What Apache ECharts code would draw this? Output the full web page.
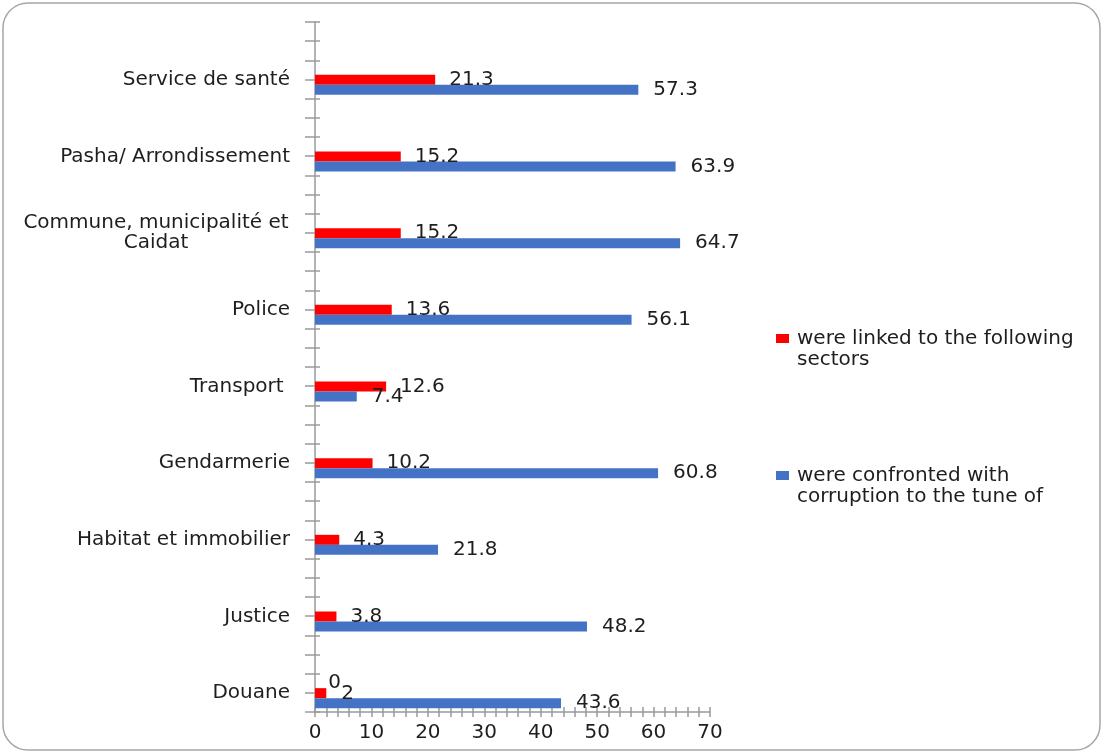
<!DOCTYPE html>
<html>
<head>
<meta charset="utf-8">
<script src="https://cdn.jsdelivr.net/npm/echarts@6/dist/echarts.min.js"></script>
<style>
  html, body { margin: 0; padding: 0; background: #fff; }
  #chart { width: 1104px; height: 753px; }
</style>
</head>
<body>
<div id="chart"></div>
<script>
// sectors, top to bottom
const categories = [
  'Service de santé',
  'Pasha/ Arrondissement',
  'Commune, municipalité et\nCaidat',
  'Police',
  'Transport ',
  'Gendarmerie',
  'Habitat et immobilier',
  'Justice',
  'Douane'
];
const linked = [21.3, 15.2, 15.2, 13.6, 12.6, 10.2, 4.3, 3.8, 2];
const confronted = [57.3, 63.9, 64.7, 56.1, 7.4, 60.8, 21.8, 48.2, 43.6];
const seriesNames = [
  'were linked to the following\nsectors',
  'were confronted with\ncorruption to the tune of'
];

const FONT = 'DejaVu Sans';
const FS = 20;
const TXT = '#1e1e1e';
const AX = '#9a9a9a';

const chart = echarts.init(document.getElementById('chart'));

// the Douane label shows up as a raised "0" next to "2" in the original
const linkedData = linked.map(function (v, i) {
  if (categories[i] === 'Douane') {
    return {
      value: v,
      label: {
        distance: 2,
        offset: [0, -5],
        formatter: '{s|0}\n{v|2}',
        rich: {
          s: { fontSize: FS, fontFamily: FONT, color: TXT, lineHeight: 11 },
          v: { fontSize: FS, fontFamily: FONT, color: TXT, lineHeight: 11, padding: [0, 0, 0, 13] }
        }
      }
    };
  }
  return v;
});

const option = {
  animation: false,
  graphic: [{
    type: 'rect',
    shape: { x: 3, y: 3, width: 1097, height: 747, r: 25 },
    style: { fill: 'none', stroke: '#a6a6a6', lineWidth: 1.5 },
    silent: true
  }],
  grid: [
    { left: 315, top: 22, width: 395, height: 690 },
    { left: 315, top: 46.5, width: 395, height: 690 }
  ],
  legend: {
    orient: 'vertical',
    left: 776,
    top: 307,
    padding: 0,
    itemWidth: 13,
    itemHeight: 9,
    itemGap: 74,
    icon: 'rect',
    data: seriesNames,
    formatter: function (name) { return '\n' + name; },
    textStyle: { fontFamily: FONT, fontSize: FS, color: TXT, lineHeight: 21, padding: [0, 0, 0, 3] }
  },
  xAxis: [
    {
      gridIndex: 0, type: 'value', min: 0, max: 70, interval: 2,
      axisLine: { show: true, lineStyle: { color: AX, width: 1.5 } },
      axisTick: { show: true, length: 5, lineStyle: { color: AX, width: 1.5 } },
      splitLine: { show: false },
      axisLabel: {
        margin: 11, fontFamily: FONT, fontSize: FS, color: TXT,
        formatter: function (v) { return v % 10 === 0 ? String(v) : ''; }
      }
    },
    {
      gridIndex: 0, type: 'value', min: 0, max: 70, interval: 2, position: 'bottom',
      axisLine: { show: false },
      axisTick: { show: true, inside: true, length: 5, lineStyle: { color: AX, width: 1.5 } },
      splitLine: { show: false },
      axisLabel: { show: false }
    },
    {
      gridIndex: 1, type: 'value', min: 0, max: 70, show: false
    }
  ],
  yAxis: [
    {
      gridIndex: 0, type: 'value', min: 0, max: 36, interval: 1,
      axisLine: { show: true, lineStyle: { color: AX, width: 1.5 } },
      axisTick: { show: true, length: 10, lineStyle: { color: AX, width: 1.5 } },
      splitLine: { show: false },
      axisLabel: { show: false }
    },
    {
      gridIndex: 0, type: 'value', min: 0, max: 36, interval: 1, position: 'left',
      axisLine: { show: false },
      axisTick: { show: true, inside: true, length: 5, lineStyle: { color: AX, width: 1.5 } },
      splitLine: { show: false },
      axisLabel: { show: false }
    },
    {
      gridIndex: 1, type: 'category', inverse: true, data: categories,
      axisLine: { show: false },
      axisTick: { show: false },
      axisLabel: {
        margin: 25, fontFamily: FONT, fontSize: FS, color: TXT,
        padding: [0, 0, 10, 0],
        lineHeight: 20,
        formatter: function (v) {
          if (v.indexOf('\n') < 0) return v;
          return v.split('\n').map(function (l) { return '{c|' + l + '}'; }).join('\n');
        },
        rich: {
          c: { width: 268, align: 'center', fontFamily: FONT, fontSize: FS, color: TXT, lineHeight: 20 }
        }
      }
    }
  ],
  series: [
    {
      name: seriesNames[0], type: 'bar', xAxisIndex: 2, yAxisIndex: 2,
      data: linkedData, barWidth: 10, barGap: '0%',
      itemStyle: { color: '#ff0000' },
      label: { show: true, position: 'right', distance: 14, fontFamily: FONT, fontSize: FS, color: TXT }
    },
    {
      name: seriesNames[1], type: 'bar', xAxisIndex: 2, yAxisIndex: 2,
      data: confronted, barWidth: 10, barGap: '0%',
      itemStyle: { color: '#4472c4' },
      label: { show: true, position: 'right', distance: 15, fontFamily: FONT, fontSize: FS, color: TXT }
    }
  ]
};

chart.setOption(option);
</script>
</body>
</html>
